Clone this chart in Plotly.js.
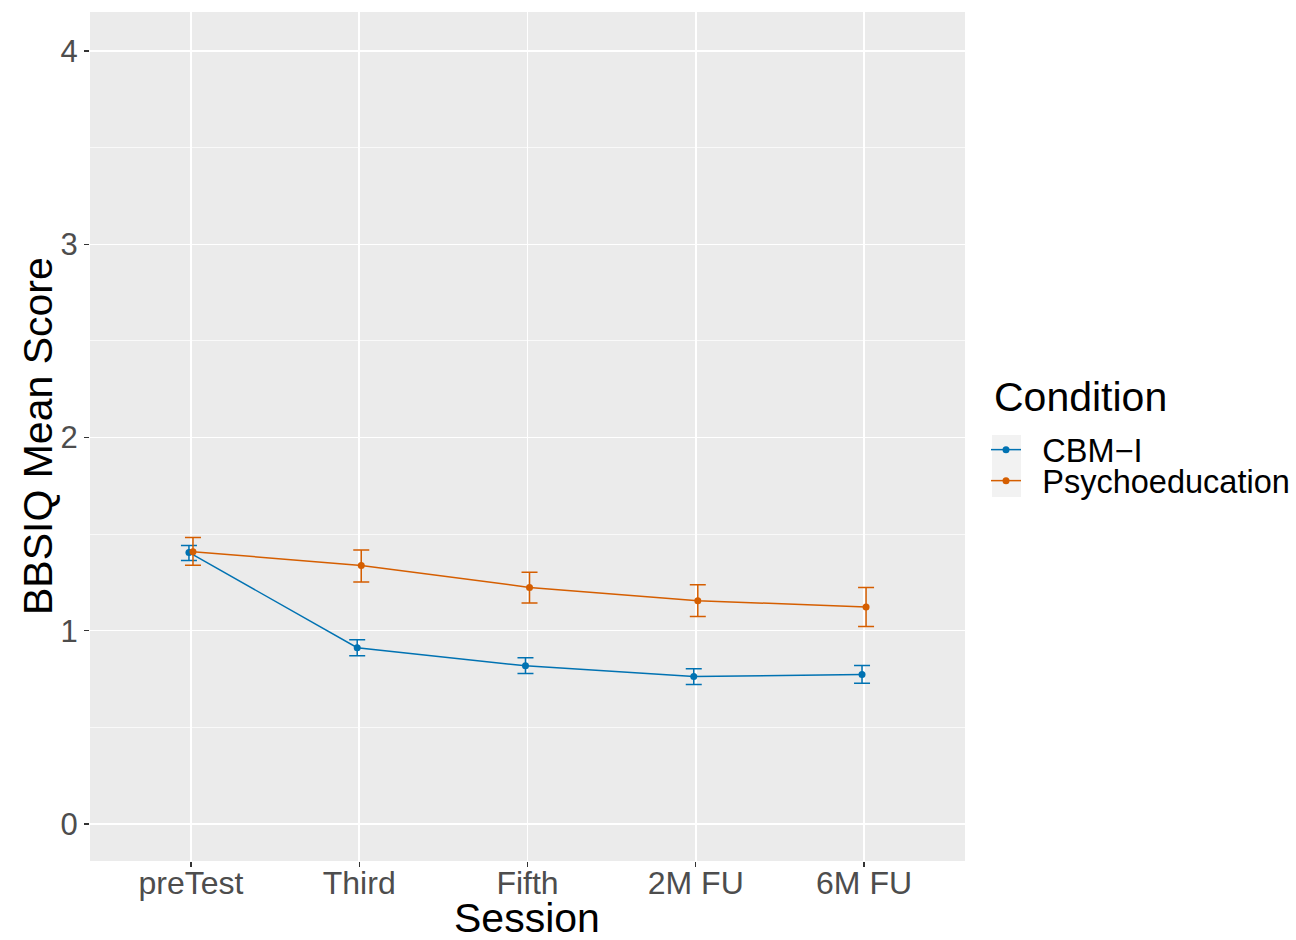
<!DOCTYPE html>
<html>
<head>
<meta charset="utf-8">
<script src="https://cdn.plot.ly/plotly-3.0.1.min.js"></script>
<style>html,body{margin:0;padding:0;background:#fff;}#chart{width:1296px;height:940px;}</style>
</head>
<body>
<div id="chart"></div>
<script>
const sessions = ["preTest", "Third", "Fifth", "2M FU", "6M FU"];
const cbmMean = [1.405, 0.912, 0.818, 0.763, 0.773];
const cbmUpper = [1.441, 0.953, 0.860, 0.803, 0.820];
const cbmLower = [1.363, 0.870, 0.778, 0.722, 0.728];
const psyMean = [1.409, 1.337, 1.224, 1.155, 1.123];
const psyUpper = [1.482, 1.418, 1.302, 1.238, 1.223];
const psyLower = [1.339, 1.252, 1.143, 1.073, 1.022];
const seriesNames = ["CBM\u2212I", "Psychoeducation"];
const colors = ["#0072B2", "#D55E00"];

const W = 1296, H = 940;
const M = {l: 90, r: 331, t: 12, b: 79, autoexpand: false};
const plotW = W - M.l - M.r, plotH = H - M.t - M.b;
const px = x => (x - M.l) / plotW;          // pixel -> paper x
const py = y => (H - M.b - y) / plotH;      // pixel -> paper y

const dodge = 0.012;
function mk(name, mean, up, lo, color, off, legendId) {
  return {
    type: "scatter", mode: "lines+markers", name: "\u2002" + name, legend: legendId,
    x: sessions.map((s, i) => i + off),
    y: mean,
    line: {color: color, width: 1.5},
    marker: {color: color, size: 7},
    error_y: {type: "data", symmetric: false,
      array: up.map((u, i) => u - mean[i]),
      arrayminus: lo.map((l, i) => mean[i] - l),
      color: color, thickness: 1.5, width: 8},
    hoverinfo: "x+y"
  };
}
const data = [
  mk(seriesNames[0], cbmMean, cbmUpper, cbmLower, colors[0], -dodge, "legend"),
  mk(seriesNames[1], psyMean, psyUpper, psyLower, colors[1], dodge, "legend2")
];
const legendCommon = {
  xanchor: "left", yanchor: "middle", bgcolor: "rgba(0,0,0,0)",
  font: {size: 32.5, color: "#000"}, itemwidth: 30, borderwidth: 0
};
const layout = {
  width: W, height: H,
  margin: M,
  paper_bgcolor: "#FFFFFF", plot_bgcolor: "#EBEBEB",
  font: {family: "Liberation Sans, Arial, sans-serif", color: "#000"},
  showlegend: true,
  xaxis: {
    range: [-0.6, 4.6], tickmode: "array",
    tickvals: sessions.map((s, i) => i), ticktext: sessions,
    showgrid: true, gridcolor: "#FFFFFF", gridwidth: 1.5,
    zeroline: false, showline: false, automargin: false,
    ticks: "outside", ticklen: 5, tickwidth: 1.2, tickcolor: "#333333",
    ticklabelstandoff: -11,
    tickfont: {size: 32, color: "#4D4D4D"}
  },
  yaxis: {
    range: [-0.192, 4.202], tickmode: "linear", tick0: 0, dtick: 1,
    showgrid: true, gridcolor: "#FFFFFF", gridwidth: 1.5,
    minor: {dtick: 0.5, tick0: 0, showgrid: true, gridcolor: "#FFFFFF", gridwidth: 0.7, ticks: ""},
    zeroline: false, showline: false, automargin: false,
    ticks: "outside", ticklen: 5, tickwidth: 1.2, tickcolor: "#333333",
    tickfont: {size: 31, color: "#4D4D4D"}
  },
  legend: Object.assign({}, legendCommon, {x: px(986), y: py(450)}),
  legend2: Object.assign({}, legendCommon, {x: px(986), y: py(481)}),
  shapes: [{
    type: "rect", xref: "paper", yref: "paper", layer: "below",
    x0: px(992), x1: px(1021), y0: py(497), y1: py(435),
    fillcolor: "#F2F2F2", line: {width: 0}
  }],
  annotations: [
    {text: "Condition", xref: "paper", yref: "paper", x: px(992), y: py(397),
     xanchor: "left", yanchor: "middle", showarrow: false,
     font: {size: 41, color: "#000"}},
    {text: "Session", xref: "paper", yref: "paper", x: px(527), y: py(918),
     xanchor: "center", yanchor: "middle", showarrow: false,
     font: {size: 41, color: "#000"}},
    {text: "BBSIQ Mean Score", xref: "paper", yref: "paper", x: px(38), y: py(436),
     xanchor: "center", yanchor: "middle", showarrow: false, textangle: -90,
     font: {size: 41, color: "#000"}}
  ]
};
Plotly.newPlot("chart", data, layout, {displayModeBar: false, staticPlot: true});
</script>
</body>
</html>
